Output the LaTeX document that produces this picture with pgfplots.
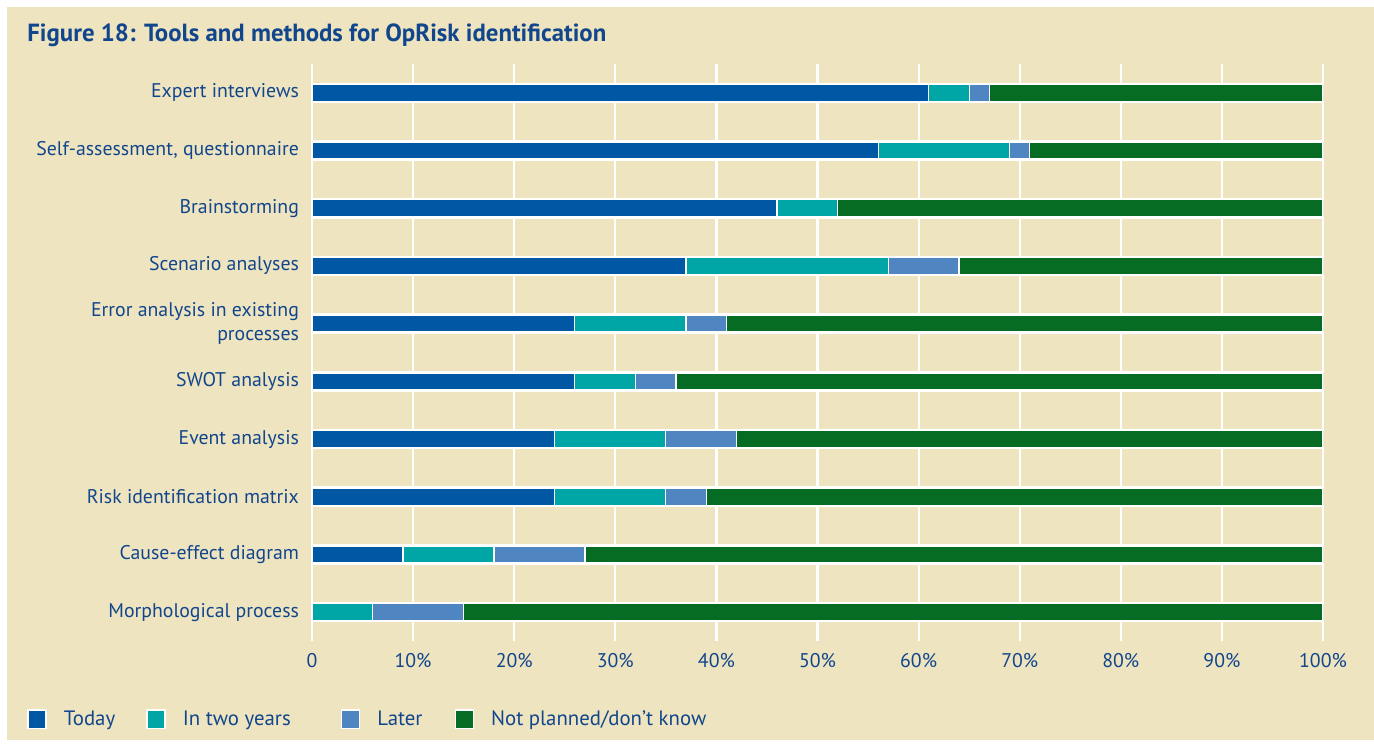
\documentclass[border=0pt]{standalone}
\usepackage{fontspec}
\setmainfont{PT Sans}
\usepackage{pgfplots}
\usepackage{pgfplotstable}
\pgfplotsset{compat=1.18}

\definecolor{bgc}{HTML}{EEE4C0}
\definecolor{txt}{HTML}{12468C}
\definecolor{today}{HTML}{0057A4}
\definecolor{twoyears}{HTML}{00A5A5}
\definecolor{later}{HTML}{4F86C1}
\definecolor{notplanned}{HTML}{066B23}

% pos today twoyears later notplanned
\pgfplotstableread{
pos today two later np
0 61 4 2 33
1 56 13 2 29
2 46 6 0 48
3 37 20 7 36
4 26 11 4 59
5 26 6 4 64
6 24 11 7 58
7 24 11 4 61
8 9 9 9 73
9 0 6 9 85
}\oprisk

\begin{document}
\begin{tikzpicture}
\useasboundingbox (0,0) rectangle (687pt,373.5pt);
\fill[bgc] (3.5pt,3.5pt) rectangle (687pt,370pt);
\node[anchor=west, text=txt, font=\fontsize{12.4}{14}\selectfont\bfseries, inner sep=0]
  at (13.5pt,356pt) {Figure 18: Tools and methods for OpRisk identification};
\begin{axis}[
  at={(156pt,53pt)}, anchor=south west,
  scale only axis,
  width=505.5pt, height=288.5pt,
  xbar stacked,
  bar width=8.4pt,
  xmin=0, xmax=100,
  ymin=-0.5, ymax=9.5,
  y dir=reverse,
  xtick={0,10,...,100},
  xticklabels={0,10\%,20\%,30\%,40\%,50\%,60\%,70\%,80\%,90\%,100\%},
  ytick={0,...,9},
  yticklabels={Expert interviews, {Self-assessment, questionnaire}, Brainstorming,
    Scenario analyses, {Error analysis in existing\\processes}, SWOT analysis,
    Event analysis, Risk identification matrix, Cause-effect diagram,
    Morphological process},
  yticklabel style={align=right, text=txt, font=\fontsize{9.9}{12}\selectfont, xshift=-3pt},
  xticklabel style={text=txt, font=\fontsize{9.9}{11}\selectfont, yshift=-2.5pt},
  /pgf/number format/assume math mode=true,
  axis line style={draw=none},
  major tick length=0pt,
  xmajorgrids,
  major grid style={white, line width=1.1pt},
  extra y ticks={-0.16,0.16,0.84,1.16,1.84,2.16,2.84,3.16,3.84,4.16,4.84,5.16,5.84,6.16,6.84,7.16,7.84,8.16,8.84,9.16},
  extra y tick labels={},
  extra y tick style={grid=major, major grid style={white, line width=1.1pt}},
  every axis plot/.append style={draw=white, line width=0.6pt},
  legend columns=4,
  legend style={at={(-0.2819,-0.136)}, anchor=west, draw=none, fill=none,
    inner sep=0pt, text=txt, font=\fontsize{10.4}{12}\selectfont,
    nodes={inner sep=0pt},
    /tikz/every odd column/.append style={column sep=8.5pt},
    /tikz/column 2/.append style={column sep=15.5pt},
    /tikz/column 4/.append style={column sep=25pt},
    /tikz/column 6/.append style={column sep=16pt}},
  legend cell align=left,
  legend image code/.code={\draw[#1, draw=white, line width=0.8pt] (0pt,-4.6pt) rectangle (9pt,4.6pt);},
]
\addplot[fill=today] table[x=today, y=pos] {\oprisk};
\addlegendentry{Today}
\addplot[fill=twoyears] table[x=two, y=pos] {\oprisk};
\addlegendentry{In two years}
\addplot[fill=later] table[x=later, y=pos] {\oprisk};
\addlegendentry{Later}
\addplot[fill=notplanned] table[x=np, y=pos] {\oprisk};
\addlegendentry{Not planned/don’t know}
\end{axis}
\end{tikzpicture}
\end{document}
